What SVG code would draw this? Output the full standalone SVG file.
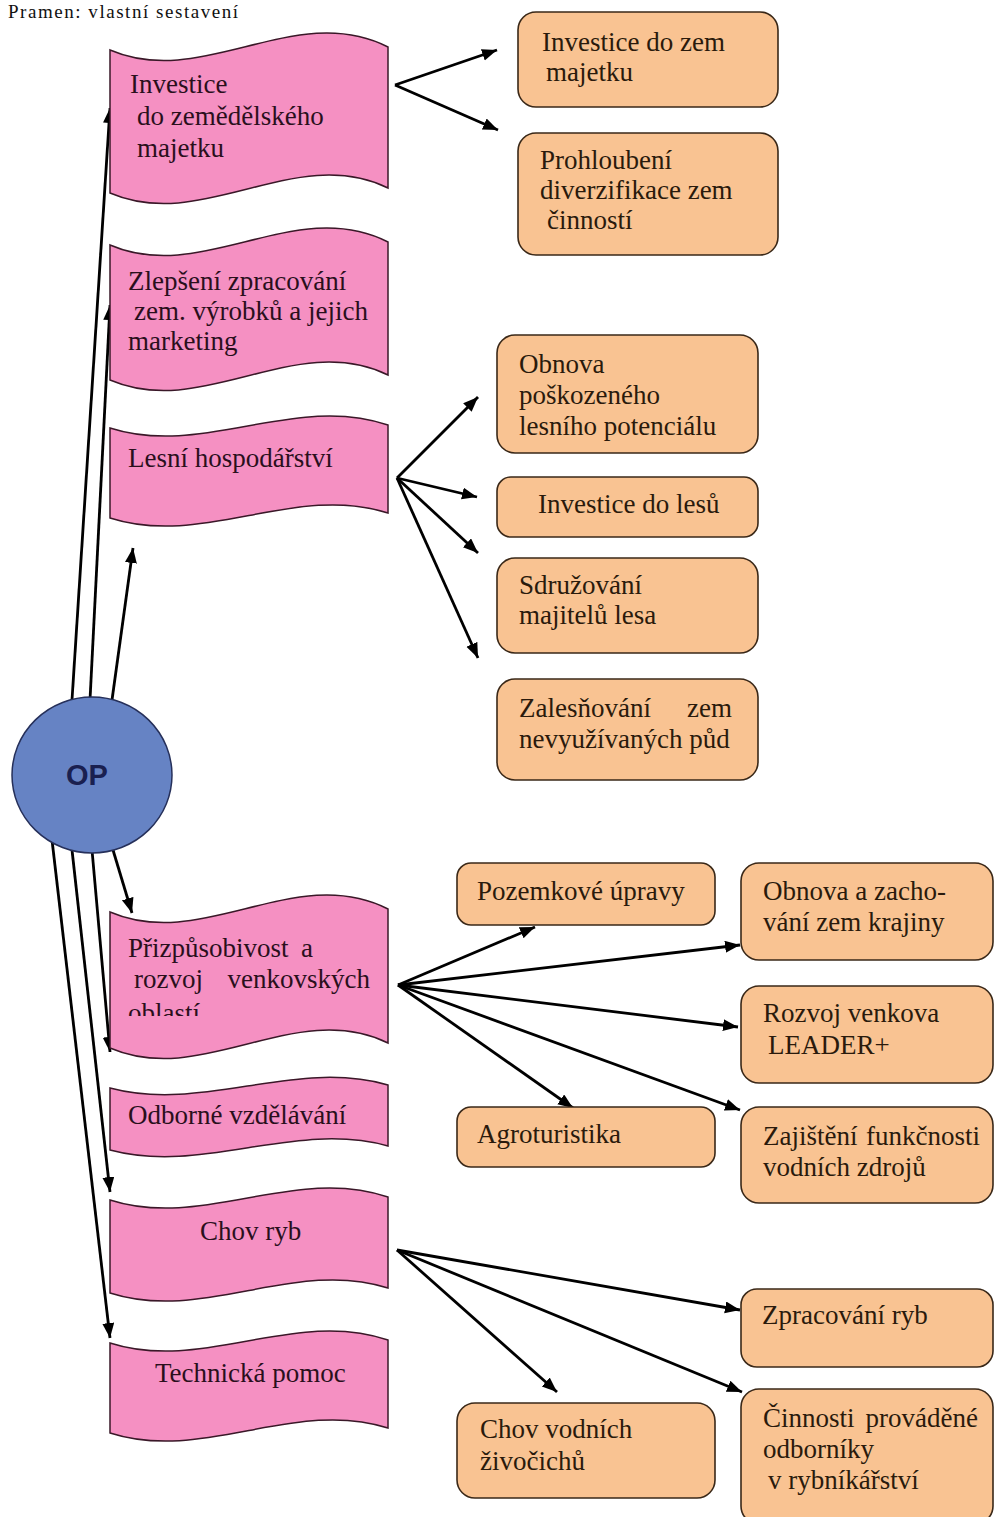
<svg xmlns="http://www.w3.org/2000/svg" width="995" height="1517" viewBox="0 0 995 1517">
<style>
.flag{fill:#F590C2;stroke:#3a1828;stroke-width:1.5}
.box{fill:#F9C392;stroke:#3a2818;stroke-width:1.6}
.ft{font-family:"Liberation Serif","Times New Roman",serif;font-size:27px;fill:#2a0f1c}
.bt{font-family:"Liberation Serif","Times New Roman",serif;font-size:27px;fill:#2a1a0c}
.src{font-family:"Liberation Serif","Times New Roman",serif;font-size:19px;fill:#111}
.con line{stroke:#000;stroke-width:2.8;marker-end:url(#ah)}
.op{font-family:"Liberation Sans",Arial,sans-serif;font-size:29px;font-weight:bold;fill:#1a2050}
</style>
<defs>
<marker id="ah" markerUnits="userSpaceOnUse" markerWidth="18" markerHeight="14" refX="15" refY="6" orient="auto">
<path d="M0,0 L15,6 L0,12 z" fill="#000"/>
</marker>
<clipPath id="clip4"><rect x="110" y="900" width="280" height="116"/></clipPath>
</defs>
<rect width="995" height="1517" fill="#fff"/>
<text class="src" x="8" y="18" textLength="230">Pramen: vlastní sestavení</text>

<g class="con">
<line x1="72" y1="700" x2="110" y2="108"/>
<line x1="90" y1="700" x2="110" y2="305"/>
<line x1="112" y1="700" x2="133" y2="548"/>
<line x1="113" y1="850" x2="132" y2="913"/>
<line x1="92" y1="850" x2="110" y2="1052"/>
<line x1="72" y1="850" x2="110" y2="1192"/>
<line x1="52" y1="840" x2="110" y2="1338"/>
<line x1="395" y1="85" x2="497" y2="50"/>
<line x1="395" y1="85" x2="498" y2="130"/>
<line x1="397" y1="478" x2="478" y2="397"/>
<line x1="397" y1="478" x2="477" y2="497"/>
<line x1="397" y1="478" x2="478" y2="553"/>
<line x1="397" y1="478" x2="478" y2="658"/>
<line x1="398" y1="985" x2="535" y2="927"/>
<line x1="398" y1="985" x2="740" y2="945"/>
<line x1="398" y1="985" x2="738" y2="1027"/>
<line x1="398" y1="985" x2="573" y2="1108"/>
<line x1="398" y1="985" x2="740" y2="1110"/>
<line x1="397" y1="1250" x2="740" y2="1310"/>
<line x1="397" y1="1250" x2="557" y2="1392"/>
<line x1="397" y1="1250" x2="742" y2="1392"/>
</g>

<g id="op">
<ellipse cx="92" cy="775" rx="80" ry="78" fill="#6683C4" stroke="#26305a" stroke-width="1.5"/>
<text class="op" x="87" y="785" text-anchor="middle">OP</text>
</g>

<g id="flag-investice">
<path class="flag" d="M110,50 C203,90 295,0 388,47 L388,188 C295,143 203,233 110,193 Z"/>
<text class="ft"><tspan x="130" y="93">Investice</tspan><tspan x="137" y="125">do zemědělského</tspan><tspan x="137" y="157">majetku</tspan></text>
</g>
<g id="flag-zlepseni">
<path class="flag" d="M110,245 C203,285 295,195 388,242 L388,375 C295,330 203,420 110,380 Z"/>
<text class="ft"><tspan x="128" y="290">Zlepšení zpracování</tspan><tspan x="134" y="320">zem. výrobků a jejich</tspan><tspan x="128" y="350">marketing</tspan></text>
</g>
<g id="flag-lesni">
<path class="flag" d="M110,428 C203,458 295,393 388,425 L388,513 C295,483 203,548 110,518 Z"/>
<text class="ft" x="128" y="467">Lesní hospodářství</text>
</g>
<g id="flag-prizpusobivost">
<path class="flag" d="M110,912 C203,952 295,862 388,909 L388,1043 C295,998 203,1088 110,1048 Z"/>
<text class="ft"><tspan x="128" y="957">Přizpůsobivost</tspan><tspan x="313" y="957" text-anchor="end">a</tspan><tspan x="134" y="988">rozvoj</tspan><tspan x="370" y="988" text-anchor="end">venkovských</tspan></text>
<text class="ft" x="128" y="1022" clip-path="url(#clip4)">oblastí</text>
</g>
<g id="flag-odborne">
<path class="flag" d="M110,1088 C203,1113 295,1058 388,1085 L388,1146 C295,1120 203,1175 110,1150 Z"/>
<text class="ft" x="128" y="1124">Odborné vzdělávání</text>
</g>
<g id="flag-chov">
<path class="flag" d="M110,1200 C203,1230 295,1165 388,1197 L388,1288 C295,1258 203,1323 110,1293 Z"/>
<text class="ft" x="200" y="1240">Chov ryb</text>
</g>
<g id="flag-technicka">
<path class="flag" d="M110,1343 C203,1373 295,1308 388,1340 L388,1428 C295,1398 203,1463 110,1433 Z"/>
<text class="ft" x="155" y="1382">Technická pomoc</text>
</g>

<g id="box-inv-zem">
<rect class="box" x="518" y="12" width="260" height="95" rx="18"/>
<text class="bt"><tspan x="542" y="51">Investice do zem</tspan><tspan x="546" y="81">majetku</tspan></text>
</g>
<g id="box-prohloubeni">
<rect class="box" x="518" y="133" width="260" height="122" rx="18"/>
<text class="bt"><tspan x="540" y="169">Prohloubení</tspan><tspan x="540" y="199">diverzifikace zem</tspan><tspan x="547" y="229">činností</tspan></text>
</g>
<g id="box-obnova-les">
<rect class="box" x="497" y="335" width="261" height="118" rx="18"/>
<text class="bt"><tspan x="519" y="373">Obnova</tspan><tspan x="519" y="404">poškozeného</tspan><tspan x="519" y="435">lesního potenciálu</tspan></text>
</g>
<g id="box-inv-lesu">
<rect class="box" x="497" y="477" width="261" height="60" rx="14"/>
<text class="bt" x="538" y="513">Investice do lesů</text>
</g>
<g id="box-sdruzovani">
<rect class="box" x="497" y="558" width="261" height="95" rx="18"/>
<text class="bt"><tspan x="519" y="594">Sdružování</tspan><tspan x="519" y="624">majitelů lesa</tspan></text>
</g>
<g id="box-zalesnovani">
<rect class="box" x="497" y="679" width="261" height="101" rx="18"/>
<text class="bt"><tspan x="519" y="717">Zalesňování</tspan><tspan x="732" y="717" text-anchor="end">zem</tspan><tspan x="519" y="748">nevyužívaných půd</tspan></text>
</g>
<g id="box-pozemkove">
<rect class="box" x="457" y="863" width="258" height="62" rx="14"/>
<text class="bt" x="477" y="900">Pozemkové úpravy</text>
</g>
<g id="box-obnova-krajiny">
<rect class="box" x="741" y="863" width="252" height="97" rx="18"/>
<text class="bt"><tspan x="763" y="900">Obnova a zacho-</tspan><tspan x="763" y="931">vání zem</tspan><tspan x="868" y="931">krajiny</tspan></text>
</g>
<g id="box-rozvoj">
<rect class="box" x="741" y="986" width="252" height="97" rx="18"/>
<text class="bt"><tspan x="763" y="1022">Rozvoj venkova</tspan><tspan x="768" y="1054">LEADER+</tspan></text>
</g>
<g id="box-agroturistika">
<rect class="box" x="457" y="1107" width="258" height="60" rx="14"/>
<text class="bt" x="477" y="1143">Agroturistika</text>
</g>
<g id="box-zajisteni">
<rect class="box" x="741" y="1107" width="252" height="96" rx="18"/>
<text class="bt"><tspan x="763" y="1145">Zajištění</tspan><tspan x="980" y="1145" text-anchor="end">funkčnosti</tspan><tspan x="763" y="1176">vodních zdrojů</tspan></text>
</g>
<g id="box-zpracovani">
<rect class="box" x="741" y="1289" width="252" height="78" rx="16"/>
<text class="bt" x="762" y="1324">Zpracování ryb</text>
</g>
<g id="box-chov-vodnich">
<rect class="box" x="457" y="1403" width="258" height="95" rx="18"/>
<text class="bt"><tspan x="480" y="1438">Chov vodních</tspan><tspan x="480" y="1470">živočichů</tspan></text>
</g>
<g id="box-cinnosti">
<rect class="box" x="741" y="1389" width="252" height="135" rx="18"/>
<text class="bt"><tspan x="763" y="1427">Činnosti</tspan><tspan x="978" y="1427" text-anchor="end">prováděné</tspan><tspan x="763" y="1458">odborníky</tspan><tspan x="768" y="1489">v rybníkářství</tspan></text>
</g>
</svg>
